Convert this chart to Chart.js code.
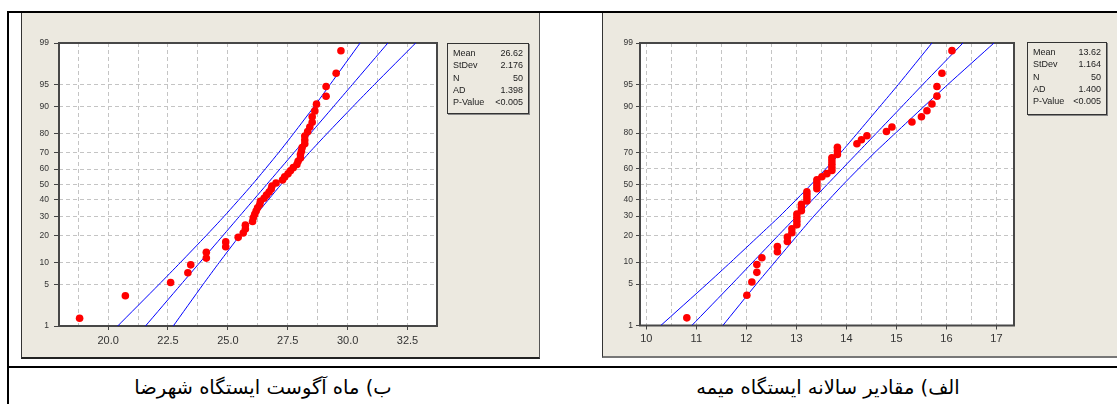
<!DOCTYPE html>
<html>
<head>
<meta charset="utf-8">
<script src="https://cdn.jsdelivr.net/npm/chart.js@4.4.1/dist/chart.umd.min.js"></script>
<style>
  html, body { margin:0; padding:0; background:#fff; }
  body { width:1117px; height:404px; position:relative; overflow:hidden; font-family:"Liberation Sans", Arial, sans-serif; }
  .line { position:absolute; background:#000; }
  .panel { position:absolute; background:#ECE9E0; box-sizing:border-box; }
  .stats { position:absolute; box-sizing:border-box; border:1px solid #333; box-shadow:1px 1px 0 #888; background:#ECE9E0; font-size:9px; color:#222; }
  .stats .row { position:absolute; left:5px; right:5px; height:12px; line-height:12px; }
  .stats .k { position:absolute; left:0; }
  .stats .v { position:absolute; right:0; }
  .cap { position:absolute; font-family:"DejaVu Sans", sans-serif; font-size:19.5px; color:#000; direction:rtl; white-space:nowrap; transform:translate(-50%,-50%); }
  canvas { position:absolute; }
</style>
</head>
<body>
<div class="panel" style="left:21px; top:13px; width:519px; height:346px; border-left:1px solid #333; border-right:1px solid #555; border-bottom:2px solid #222;"></div>
<div class="panel" style="left:602px; top:13px; width:520px; height:345px; border-left:1px solid #333; border-bottom:2px solid #777;"></div>

<div class="line" style="left:8px; top:11px; width:1109px; height:2px;"></div>
<div class="line" style="left:7px; top:11px; width:2px; height:393px;"></div>
<div class="line" style="left:8px; top:366px; width:1109px; height:2px;"></div>

<canvas id="chartL" width="518" height="345" style="left:21px; top:13px;"></canvas>
<canvas id="chartR" width="514" height="343" style="left:603px; top:13px;"></canvas>

<div class="stats" id="statsL" style="left:447px; top:43px; width:82px; height:71px;"></div>
<div class="stats" id="statsR" style="left:1027px; top:42px; width:80px; height:73px;"></div>

<div class="cap" style="left:263px; top:387px;">ب) ماه آگوست ایستگاه شهرضا</div>
<div class="cap" style="left:828px; top:387px;">الف) مقادیر سالانه ایستگاه میمه</div>

<script>
// ---------- DATA ----------
// plotting positions (percent) of the 50 ordered observations
const plotPct = [1.39,3.37,5.36,7.34,9.33,11.31,13.29,15.28,17.26,19.25,
  21.23,23.21,25.20,27.18,29.17,31.15,33.13,35.12,37.10,39.09,
  41.07,43.06,45.04,47.02,49.01,50.99,52.98,54.96,56.94,58.93,
  60.91,62.90,64.88,66.87,68.85,70.83,72.82,74.80,76.79,78.77,
  80.75,82.74,84.72,86.71,88.69,90.67,92.66,94.64,96.63,98.61];

// probability axis ticks
const probTicks = [1,5,10,20,30,40,50,60,70,80,90,95,99];

// Shahreza (August) observations
const shahrezaX = [18.81,20.72,22.61,23.33,23.45,24.10,24.10,24.91,24.91,25.43,
  25.64,25.73,25.73,26.03,26.06,26.12,26.18,26.24,26.33,26.36,
  26.51,26.61,26.72,26.81,26.84,27.01,27.28,27.37,27.51,27.61,
  27.73,27.88,27.93,28.03,28.03,28.07,28.10,28.21,28.21,28.21,
  28.33,28.42,28.52,28.52,28.63,28.70,29.10,29.10,29.52,29.72];

// Meymeh (annual) observations
const meymehX = [10.81,12.01,12.11,12.21,12.21,12.31,12.62,12.62,12.82,12.82,
  12.91,12.91,13.01,13.01,13.01,13.01,13.10,13.10,13.10,13.21,
  13.21,13.21,13.21,13.41,13.41,13.41,13.41,13.51,13.61,13.71,
  13.71,13.71,13.71,13.71,13.82,13.82,13.82,14.21,14.30,14.41,
  14.80,14.91,15.31,15.50,15.61,15.71,15.81,15.81,15.91,16.11];

// fitted line and 95% confidence band (x value at each probability)
const bandPct = [1,5,10,20,30,50,70,80,90,95,99];
const shahrezaFit   = [21.56,23.04,23.83,24.79,25.48,26.62,27.76,28.45,29.41,30.20,31.68];
const shahrezaLower = [20.40,22.12,23.02,24.09,24.84,26.02,27.12,27.75,28.60,29.27,30.52];
const shahrezaUpper = [22.72,23.96,24.64,25.49,26.12,27.22,28.40,29.15,30.22,31.12,32.84];
const meymehFit   = [10.91,11.71,12.13,12.64,13.01,13.62,14.23,14.60,15.11,15.53,16.33];
const meymehLower = [10.29,11.21,11.69,12.26,12.67,13.30,13.89,14.22,14.67,15.04,15.71];
const meymehUpper = [11.53,12.20,12.57,13.02,13.35,13.94,14.57,14.98,15.55,16.03,16.95];

// x axis grid values and tick labels
const shahrezaGrid = [18.75,20,21.25,22.5,23.75,25,26.25,27.5,28.75,30,31.25,32.5];
const shahrezaTickVals = [20,22.5,25,27.5,30,32.5];
const shahrezaTickLabels = ['20.0','22.5','25.0','27.5','30.0','32.5'];
const meymehGrid = [10,10.5,11,11.5,12,12.5,13,13.5,14,14.5,15,15.5,16,16.5,17];
const meymehTickVals = [10,11,12,13,14,15,16,17];
const meymehTickLabels = ['10','11','12','13','14','15','16','17'];

// statistics boxes
const statKeys = ['Mean','StDev','N','AD','P-Value'];
const shahrezaStats = ['26.62','2.176','50','1.398','<0.005'];
const meymehStats = ['13.62','1.164','50','1.400','<0.005'];

// ---------- helpers ----------
function qnorm(p){
  const a=[-3.969683028665376e+01,2.209460984245205e+02,-2.759285104469687e+02,1.383577518672690e+02,-3.066479806614716e+01,2.506628277459239e+00];
  const b=[-5.447609879822406e+01,1.615858368580409e+02,-1.556989798598866e+02,6.680131188771972e+01,-1.328068155288572e+01];
  const c=[-7.784894002430293e-03,-3.223964580411365e-01,-2.400758277161838e+00,-2.549671010497838e+00,4.374664141464968e+00,2.938163982698783e+00];
  const d=[7.784695709041462e-03,3.224671290700398e-01,2.445134137142996e+00,3.754408661907416e+00];
  const pl=0.02425, ph=1-pl; let q,r;
  if(p<pl){q=Math.sqrt(-2*Math.log(p));return (((((c[0]*q+c[1])*q+c[2])*q+c[3])*q+c[4])*q+c[5])/((((d[0]*q+d[1])*q+d[2])*q+d[3])*q+1);}
  if(p<=ph){q=p-0.5;r=q*q;return (((((a[0]*r+a[1])*r+a[2])*r+a[3])*r+a[4])*r+a[5])*q/(((((b[0]*r+b[1])*r+b[2])*r+b[3])*r+b[4])*r+1);}
  q=Math.sqrt(-2*Math.log(1-p));return -(((((c[0]*q+c[1])*q+c[2])*q+c[3])*q+c[4])*q+c[5])/((((d[0]*q+d[1])*q+d[2])*q+d[3])*q+1);
}
const z = p => qnorm(p/100);

function fillStats(id, vals){
  const el = document.getElementById(id);
  statKeys.forEach((k,i)=>{
    const row = document.createElement('div');
    row.className='row';
    row.style.top = (3 + i*12.35) + 'px';
    row.innerHTML = '<span class="k">'+k+'</span><span class="v">'+vals[i].replace('<','&lt;')+'</span>';
    el.appendChild(row);
  });
}
fillStats('statsL', shahrezaStats);
fillStats('statsR', meymehStats);

const plotBg = {
  id:'plotBg',
  beforeDraw(chart){
    const {ctx, chartArea:a} = chart;
    ctx.save(); ctx.fillStyle='#fff'; ctx.fillRect(a.left,a.top,a.right-a.left,a.bottom-a.top); ctx.restore();
  },
  beforeDatasetsDraw(chart){
    const {ctx, chartArea:a} = chart;
    ctx.save(); ctx.strokeStyle='#474747'; ctx.lineWidth=2;
    ctx.strokeRect(a.left, a.top, a.right-a.left, a.bottom-a.top); ctx.restore();
  }
};

function makeChart(id, cfg){
  const isLab = v => cfg.tickVals.some(t => Math.abs(t-v)<1e-6);
  const lineDs = (arr) => ({
    type:'line', data: arr.map((x,i)=>({x, y:z(bandPct[i])})),
    borderColor:'#0000FF', borderWidth:1, pointRadius:0, showLine:true, fill:false, tension:0.2
  });
  new Chart(document.getElementById(id), {
    type:'scatter',
    data:{ datasets:[
      { data: cfg.xs.map((x,i)=>({x, y:z(plotPct[i])})), backgroundColor:'#FF0000', borderColor:'#FF0000', borderWidth:0, pointRadius:3.8, pointHoverRadius:3.8 },
      lineDs(cfg.fit), lineDs(cfg.lower), lineDs(cfg.upper)
    ]},
    options:{
      responsive:false, animation:false, devicePixelRatio:1,
      layout:{ padding:{ top:30, right:cfg.padRight, bottom:0, left:0 } },
      plugins:{ legend:{display:false}, tooltip:{enabled:false} },
      scales:{
        x:{
          type:'linear', min:cfg.xmin, max:cfg.xmax,
          afterBuildTicks: s => { s.ticks = cfg.grid.map(v=>({value:v})); },
          afterFit: s => { s.height = cfg.xAxisH; },
          border:{ display:false, dash:[4,3] },
          grid:{ color:'#C4C4C4', lineWidth:1, drawTicks:true, tickLength:4, tickWidth:1,
                 tickColor: c => (c.tick && isLab(c.tick.value)) ? '#444' : 'rgba(0,0,0,0)' },
          ticks:{ autoSkip:false, maxRotation:0, padding:cfg.xPad, color:'#333',
                  font:{ family:'"Liberation Sans", Arial, sans-serif', size:11 },
                  callback: v => { const i = cfg.tickVals.findIndex(t=>Math.abs(t-v)<1e-6); return i>=0 ? cfg.tickLabels[i] : ''; } }
        },
        y:{
          type:'linear', min:z(1), max:z(99),
          afterBuildTicks: s => { s.ticks = probTicks.map(p=>({value:z(p)})); },
          afterFit: s => { s.width = cfg.yAxisW; },
          border:{ display:false, dash:[4,3] },
          grid:{ color:'#C4C4C4', lineWidth:1, drawTicks:true, tickLength:cfg.yTick, tickColor:'#444', tickWidth:1 },
          ticks:{ autoSkip:false, padding:cfg.yPad, color:'#333',
                  font:{ family:'"Liberation Sans", Arial, sans-serif', size:8.5 },
                  callback: (v,i) => String(probTicks[i]) }
        }
      }
    },
    plugins:[plotBg]
  });
}

makeChart('chartL', {
  xs: shahrezaX, fit: shahrezaFit, lower: shahrezaLower, upper: shahrezaUpper,
  xmin:17.95, xmax:33.73, grid: shahrezaGrid, tickVals: shahrezaTickVals, tickLabels: shahrezaTickLabels,
  padRight:102, xAxisH:32, yAxisW:38, yTick:5, yPad:5, xPad:4
});
makeChart('chartR', {
  xs: meymehX, fit: meymehFit, lower: meymehLower, upper: meymehUpper,
  xmin:9.874, xmax:17.35, grid: meymehGrid, tickVals: meymehTickVals, tickLabels: meymehTickLabels,
  padRight:103, xAxisH:30.5, yAxisW:37, yTick:4, yPad:3, xPad:3
});
</script>
</body>
</html>
